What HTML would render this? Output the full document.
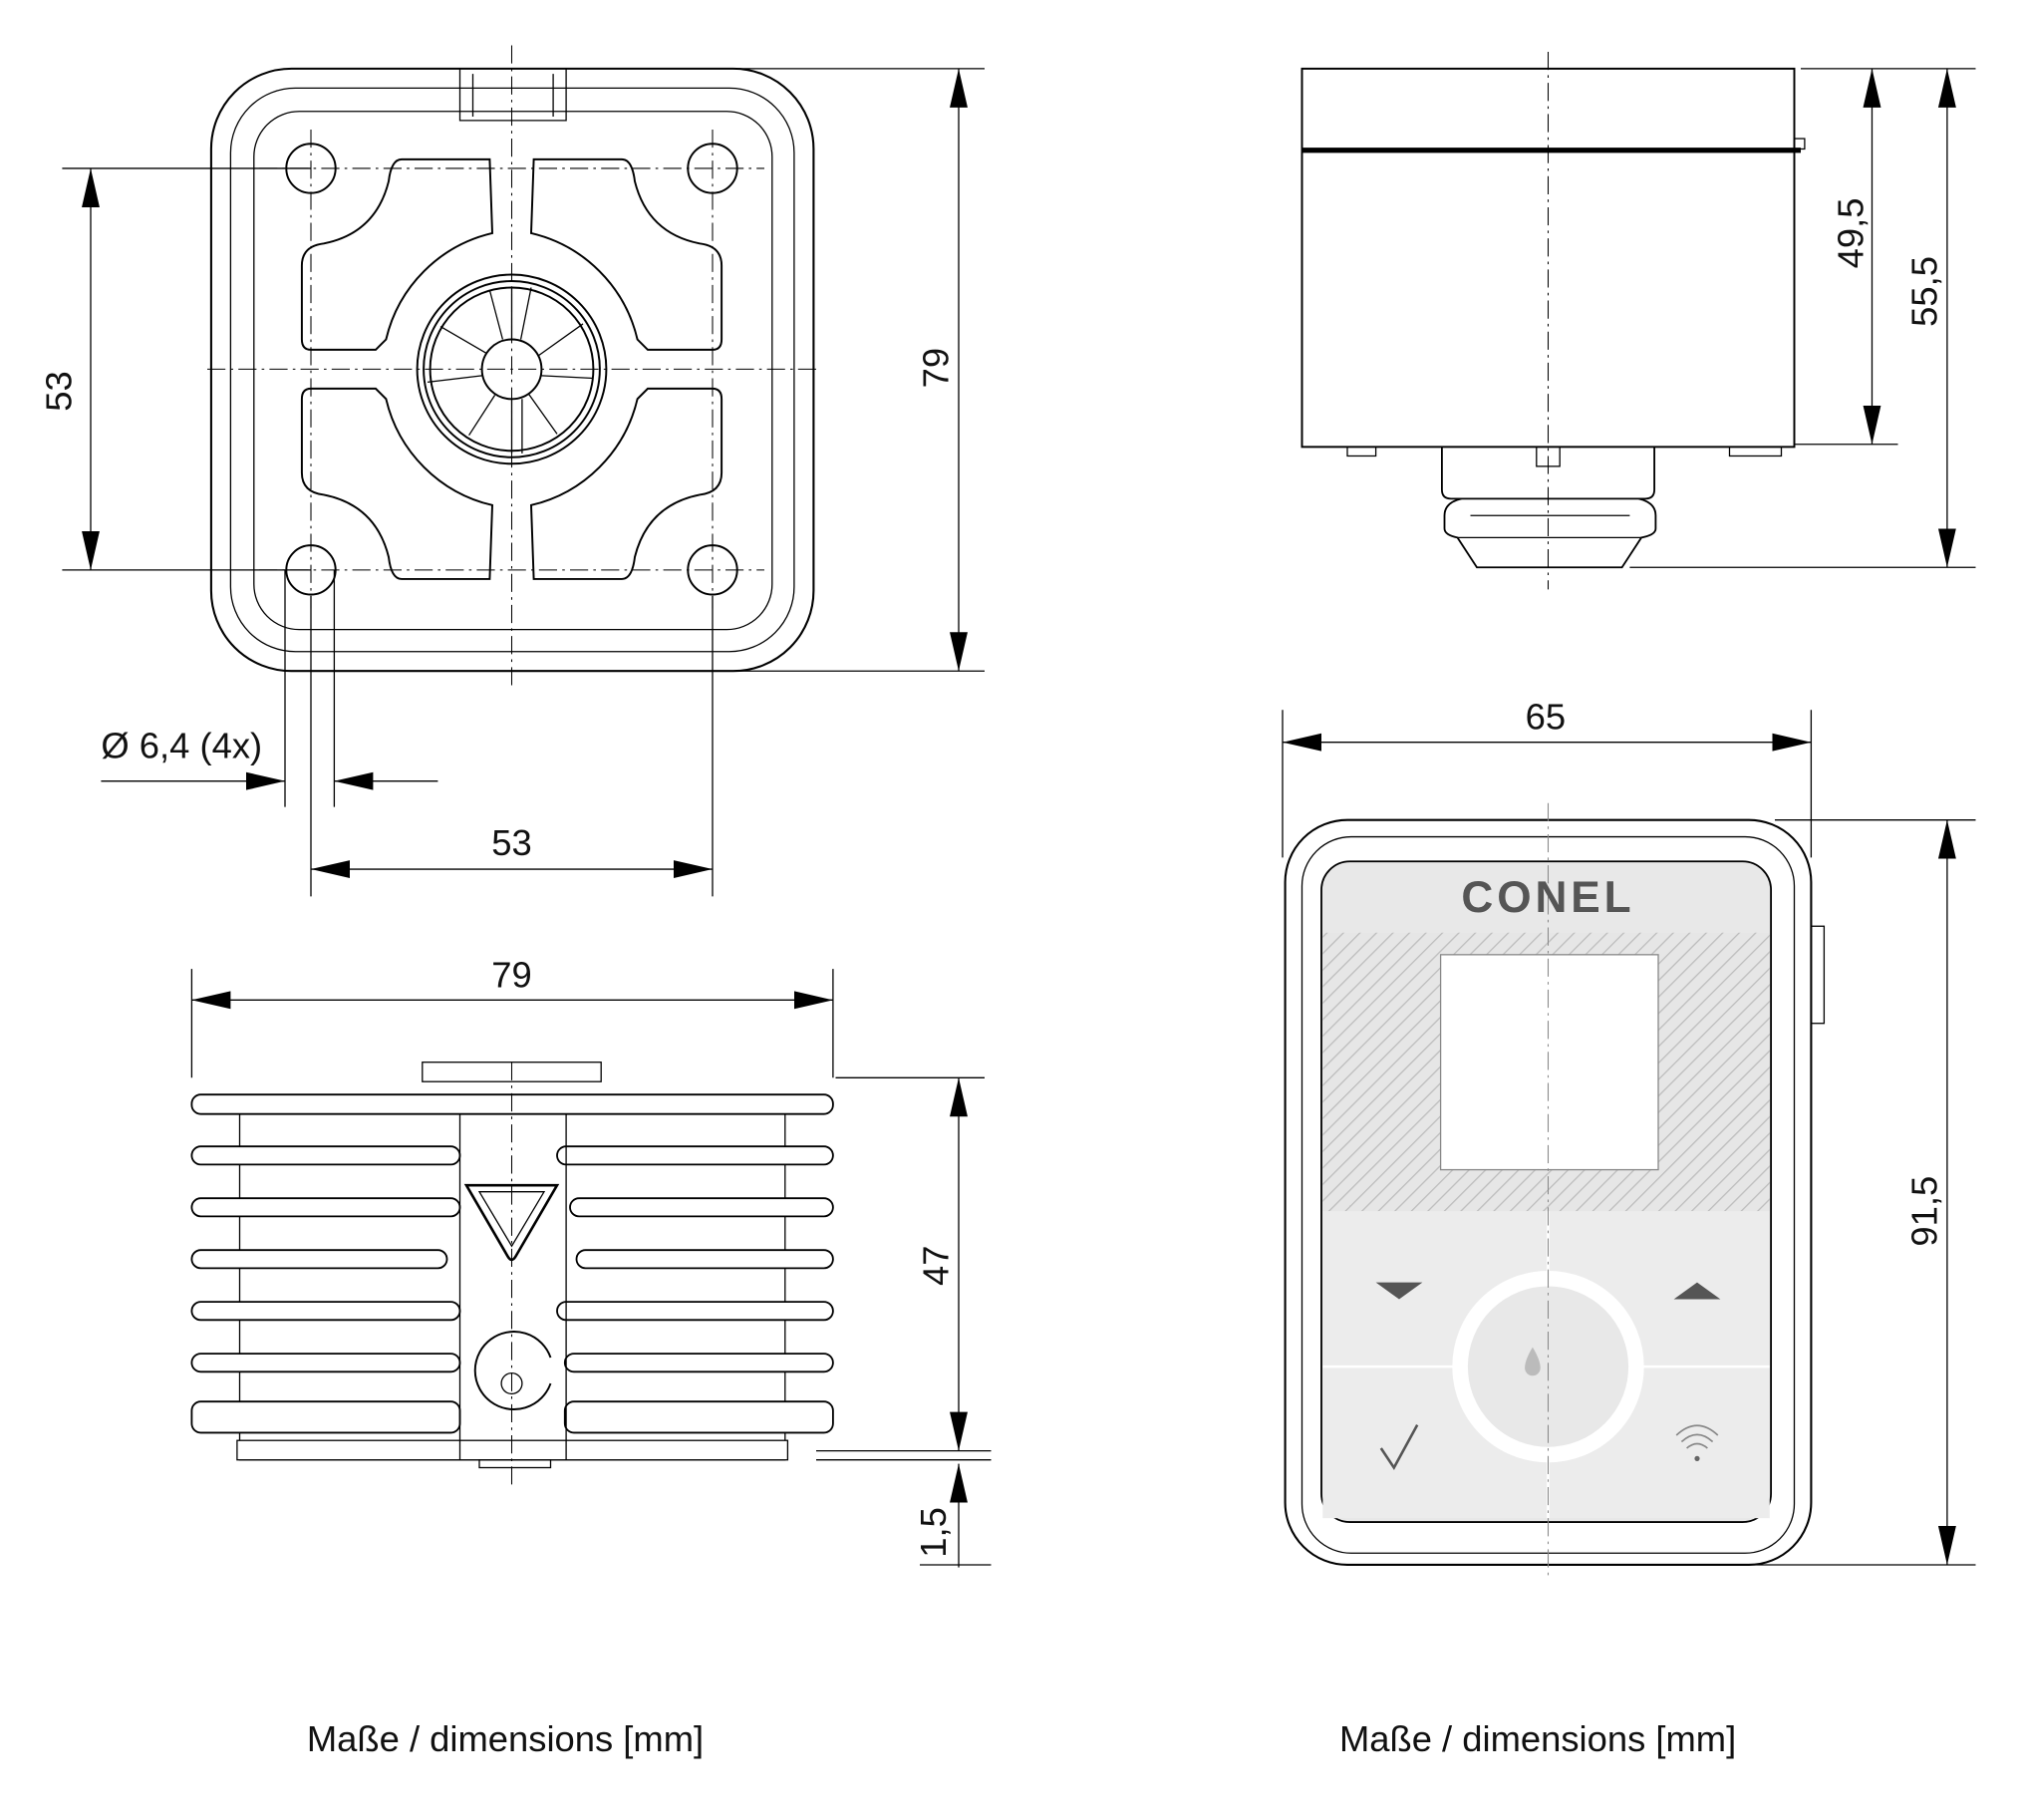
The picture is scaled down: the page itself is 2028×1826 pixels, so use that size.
<!DOCTYPE html>
<html><head><meta charset="utf-8"><style>
html,body{margin:0;padding:0;background:#fff}
svg{display:block}
text{font-family:"Liberation Sans",sans-serif;fill:#111}
</style></head><body>
<svg width="2028" height="1826" viewBox="0 0 1560 1405" preserveAspectRatio="none" xmlns="http://www.w3.org/2000/svg">
<defs>
<marker id="a" viewBox="0 0 10 10" refX="10" refY="5" markerWidth="30" markerHeight="30" markerUnits="userSpaceOnUse" orient="auto-start-reverse"><path d="M0,2.7 L10,5 L0,7.3 Z" fill="#000"/></marker>
<pattern id="h" width="9" height="9" patternUnits="userSpaceOnUse" patternTransform="rotate(45)"><rect width="9" height="9" fill="#e6e6e6"/><line x1="0" y1="0" x2="0" y2="9" stroke="#bdbdbd" stroke-width="2"/></pattern>
<path id="q" d="M310,123 L378,123 L380,180 A110 110 0 0 0 298,262 L290,270 L240,270 Q233,270 233,262 L233,205 Q233,190 250,188 Q290,180 300,140 Q302,123 310,123 Z"/>
</defs>
<g fill="none" stroke="#000" stroke-width="1">
<!-- TOP LEFT VIEW -->
<rect x="163" y="53" width="465" height="465" rx="62" stroke-width="1.6"/>
<rect x="178" y="68" width="435" height="435" rx="50"/>
<rect x="196" y="86" width="400" height="400" rx="35"/>
<path d="M355,53 V93 H437 V53 M365,57 V90 M427,57 V90"/>
<g stroke-width="1.5">
<circle cx="240" cy="130" r="19"/><circle cx="550" cy="130" r="19"/><circle cx="240" cy="440" r="19"/><circle cx="550" cy="440" r="19"/>
<use href="#q"/><use href="#q" transform="translate(790,0) scale(-1,1)"/><use href="#q" transform="translate(0,570) scale(1,-1)"/><use href="#q" transform="translate(790,570) scale(-1,-1)"/>
<circle cx="395" cy="285" r="73"/><circle cx="395" cy="285" r="68"/><circle cx="395" cy="285" r="63"/><circle cx="395" cy="285" r="23"/>
</g>
<path d="M395,262 L395,222 M415,275 L450,250 M418,290 L458,292 M408,304 L430,335 M382,305 L362,336 M372,290 L330,295 M376,273 L340,252 M402,262 L410,222 M388,262 L378,224 M395,308 V350 M403,308 V350"/>
<g stroke-dasharray="14,4,2,4" stroke-width=".8"><path d="M395,35 V530 M160,285 H630 M240,100 V470 M550,100 V470 M200,130 H590 M200,440 H590"/></g>
<!-- dims -->
<path d="M48,130 H240 M48,440 H240 M570,53 H760 M570,518 H760 M220,440 V623 M258,440 V623 M240,460 V692 M550,460 V692"/>
<path d="M70,130 V440" marker-start="url(#a)" marker-end="url(#a)"/>
<path d="M740,53 V518" marker-start="url(#a)" marker-end="url(#a)"/>
<path d="M78,603 H220" marker-end="url(#a)"/><path d="M338,603 H258" marker-end="url(#a)"/>
<path d="M240,671 H550" marker-start="url(#a)" marker-end="url(#a)"/>
<!-- BOTTOM LEFT VIEW -->
<path d="M148,748 V832 M643,748 V832"/>
<path d="M148,772 H643" marker-start="url(#a)" marker-end="url(#a)"/>
<rect x="326" y="820" width="138" height="15"/>
<rect x="185" y="845" width="421" height="282"/>
<rect x="183" y="1112" width="425" height="15" fill="#fff"/>
<g stroke-width="1.4" fill="#fff">
<rect x="148" y="845" width="495" height="15" rx="7"/>
<rect x="148" y="885" width="207" height="14" rx="7"/><rect x="430" y="885" width="213" height="14" rx="7"/>
<rect x="148" y="925" width="207" height="14" rx="7"/><rect x="440" y="925" width="203" height="14" rx="7"/>
<rect x="148" y="965" width="197" height="14" rx="7"/><rect x="445" y="965" width="198" height="14" rx="7"/>
<rect x="148" y="1005" width="207" height="14" rx="7"/><rect x="430" y="1005" width="213" height="14" rx="7"/>
<rect x="148" y="1045" width="207" height="14" rx="7"/><rect x="436" y="1045" width="207" height="14" rx="7"/>
<rect x="148" y="1082" width="207" height="24" rx="7"/><rect x="436" y="1082" width="207" height="24" rx="7"/>
</g>
<path d="M355,860 V1127 M437,860 V1127"/>
<path d="M360,915 H430 L398,970 Q395,975 392,970 Z" stroke-width="2"/>
<path d="M370,920 H420 L395,962 Z"/>
<path d="M425,1048 A30 30 0 1 0 425,1068" stroke-width="1.5"/>
<circle cx="395" cy="1068" r="8"/><rect x="370" y="1127" width="55" height="6"/>
<path d="M630,1120 H765 M630,1127 H765 M710,1208 H765 M645,832 H760"/>
<path d="M740,832 V1120" marker-start="url(#a)" marker-end="url(#a)"/>
<path d="M740,1210 V1130" marker-end="url(#a)"/>
<path d="M395,820 V1150" stroke-dasharray="14,4,2,4" stroke-width=".8"/>
<!-- TOP RIGHT VIEW -->
<rect x="1005" y="53" width="380" height="292" stroke-width="1.5"/>
<line x1="1005" y1="116" x2="1390" y2="116" stroke-width="4"/>
<rect x="1385" y="107" width="8" height="8"/>
<rect x="1040" y="345" width="22" height="7"/><rect x="1335" y="345" width="40" height="7"/>
<path d="M1113,345 V378 Q1113,385 1120,385 H1270 Q1277,385 1277,378 V345" stroke-width="1.4"/>
<rect x="1186" y="345" width="18" height="15"/>
<path d="M1128,385 Q1115,388 1115,398 V408 Q1115,413 1125,415 L1140,438 H1252 L1267,415 Q1278,413 1278,408 V398 Q1278,388 1265,385" stroke-width="1.4"/>
<path d="M1125,415 H1268 M1135,398 H1258"/>
<path d="M1195,40 V455" stroke-dasharray="14,4,2,4" stroke-width=".8"/>
<path d="M1390,53 H1525 M1385,343 H1465 M1258,438 H1525"/>
<path d="M1445,53 V343" marker-start="url(#a)" marker-end="url(#a)"/>
<path d="M1503,53 V438" marker-start="url(#a)" marker-end="url(#a)"/>
<!-- BOTTOM RIGHT VIEW -->
<path d="M990,548 V662 M1398,548 V662 M1370,633 H1525 M1200,1208 H1525"/>
<path d="M990,573 H1398" marker-start="url(#a)" marker-end="url(#a)"/>
<path d="M1503,633 V1208" marker-start="url(#a)" marker-end="url(#a)"/>
<rect x="992" y="633" width="406" height="575" rx="48" stroke-width="1.6"/>
<rect x="1005" y="646" width="380" height="553" rx="38"/>
<rect x="1398" y="715" width="10" height="75"/>
</g>
<rect x="1020" y="665" width="347" height="510" rx="22" fill="#e8e8e8" stroke="#000" stroke-width="1.4"/>
<rect x="1021" y="720" width="345" height="215" fill="url(#h)"/>
<rect x="1021" y="935" width="345" height="237" fill="#ececec"/>
<path d="M1021,1055 H1366 M1195,935 V1172" stroke="#fff" stroke-width="2"/>
<rect x="1112" y="737" width="168" height="166" fill="#fff" stroke="#888" stroke-width="1"/>
<circle cx="1195" cy="1055" r="68" fill="#e8e8e8" stroke="#fff" stroke-width="12"/>
<path d="M1062,990 H1098 L1080,1003 Z M1292,1003 H1328 L1310,990 Z" fill="#555"/>
<path d="M1066,1118 L1076,1133 L1094,1100" fill="none" stroke="#555" stroke-width="2"/>
<path d="M1302,1118 q8,-7 16,0 M1298,1113 q12,-11 24,0 M1294,1108 q16,-15 32,0" fill="none" stroke="#888" stroke-width="1.3"/>
<circle cx="1310" cy="1126" r="2" fill="#666"/>
<path d="M1183,1040 q6,10 6,16 a6,6 0 0 1 -12,0 q0,-6 6,-16 Z" fill="#bbb"/>
<path d="M1195,620 V1220" stroke="#888" stroke-dasharray="14,4,2,4" stroke-width=".8" fill="none"/>
<text x="1195" y="704" text-anchor="middle" font-size="34" font-weight="bold" fill="#555" style="fill:#555;letter-spacing:3px">CONEL</text>
<!-- labels -->
<g font-size="28">
<text x="55" y="302" text-anchor="middle" transform="rotate(-90 55 302)">53</text>
<text x="732" y="284" text-anchor="middle" transform="rotate(-90 732 284)">79</text>
<text x="78" y="585">Ø 6,4 (4x)</text>
<text x="395" y="660" text-anchor="middle">53</text>
<text x="395" y="762" text-anchor="middle">79</text>
<text x="732" y="977" text-anchor="middle" transform="rotate(-90 732 977)">47</text>
<text x="730" y="1183" text-anchor="middle" transform="rotate(-90 730 1183)">1,5</text>
<text x="1438" y="180" text-anchor="middle" transform="rotate(-90 1438 180)">49,5</text>
<text x="1495" y="225" text-anchor="middle" transform="rotate(-90 1495 225)">55,5</text>
<text x="1193" y="563" text-anchor="middle">65</text>
<text x="1495" y="935" text-anchor="middle" transform="rotate(-90 1495 935)">91,5</text>
<text x="390" y="1352" text-anchor="middle">Maße / dimensions [mm]</text>
<text x="1187" y="1352" text-anchor="middle">Maße / dimensions [mm]</text>
</g>
</svg>
</body></html>
